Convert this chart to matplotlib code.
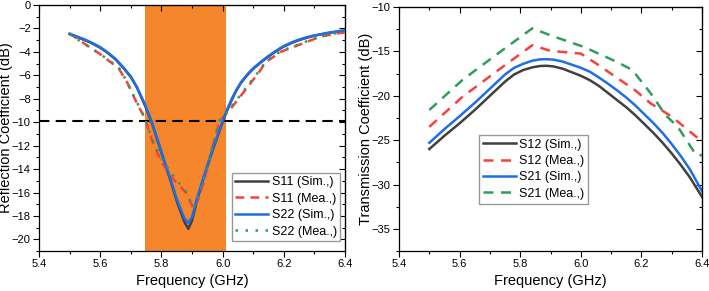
import numpy as np
import matplotlib.pyplot as plt
from matplotlib.ticker import MultipleLocator

plt.rcParams['font.family'] = ['Liberation Sans', 'DejaVu Sans']

# ---- reflection data (GHz, dB) ----
f_s22_sim = [5.50, 5.525, 5.55, 5.575, 5.60, 5.625, 5.65, 5.675, 5.70, 5.72, 5.745, 5.768,
             5.80, 5.83, 5.851, 5.875, 5.888, 5.90, 5.915, 5.94, 5.97, 6.00, 6.015, 6.03,
             6.045, 6.06, 6.08, 6.10, 6.125, 6.15, 6.175, 6.20, 6.225, 6.25, 6.275, 6.30,
             6.35, 6.40]
s22_sim = [-2.45, -2.7, -2.95, -3.25, -3.6, -4.05, -4.6, -5.3, -6.1, -7.0, -8.4, -9.9,
           -12.5, -14.9, -16.6, -18.2, -18.6, -18.1, -16.6, -14.5, -12.1, -9.9, -8.9, -8.0,
           -7.25, -6.6, -5.95, -5.4, -4.85, -4.35, -3.9, -3.5, -3.2, -2.95, -2.75, -2.6,
           -2.35, -2.15]
s11_sim = [-2.5, -2.75, -3.0, -3.3, -3.65, -4.1, -4.65, -5.35, -6.15, -7.05, -8.5, -10.0,
           -12.6, -15.0, -16.8, -18.5, -19.1, -18.4, -16.8, -14.6, -12.2, -10.0, -9.0, -8.1,
           -7.3, -6.65, -6.0, -5.45, -4.9, -4.4, -3.95, -3.55, -3.25, -3.0, -2.8, -2.62,
           -2.37, -2.2]

f_s11_mea = [5.50, 5.56, 5.60, 5.66, 5.69, 5.72, 5.745, 5.77, 5.80, 5.84, 5.88, 5.905,
             5.92, 5.94, 5.965, 5.99, 6.025, 6.07, 6.12, 6.14, 6.19, 6.23, 6.28, 6.32, 6.38, 6.40]
s11_mea = [-2.44, -3.5, -4.2, -5.4, -6.7, -8.4, -9.6, -11.6, -13.4, -14.9, -16.0, -17.4,
           -16.6, -15.0, -12.3, -9.9, -8.9, -7.4, -5.7, -4.9, -4.0, -3.6, -3.1, -2.7, -2.4, -2.35]

f_s22_mea = [5.50, 5.54, 5.58, 5.62, 5.66, 5.68, 5.72, 5.745, 5.765, 5.795, 5.845, 5.88, 5.905,
             5.92, 5.94, 5.965, 5.99, 6.025, 6.07, 6.12, 6.14, 6.19, 6.23, 6.28, 6.32, 6.38, 6.40]
s22_mea = [-2.44, -3.2, -3.85, -4.55, -5.3, -6.2, -8.3, -9.6, -11.2, -12.9, -14.8, -15.9, -17.3,
           -16.4, -14.8, -12.2, -9.8, -8.8, -7.3, -5.6, -4.85, -3.95, -3.55, -3.05, -2.7, -2.35, -2.3]

band = (5.745, 6.012)
ref_level = -9.9

# ---- transmission data ----
f_sim = [5.50, 5.55, 5.60, 5.65, 5.70, 5.75, 5.78, 5.81, 5.84, 5.865, 5.887, 5.91, 5.94,
         5.97, 6.00, 6.03, 6.06, 6.09, 6.12, 6.15, 6.18, 6.21, 6.24, 6.27, 6.30, 6.33,
         6.36, 6.40]
s12_sim = [-26.0, -24.5, -23.1, -21.6, -20.0, -18.4, -17.6, -17.1, -16.8, -16.65, -16.62,
           -16.7, -16.95, -17.35, -17.75, -18.25, -18.9, -19.7, -20.5, -21.3, -22.2, -23.2,
           -24.2, -25.3, -26.5, -27.8, -29.2, -31.4]
s21_sim = [-25.3, -23.75, -22.3, -20.8, -19.2, -17.6, -16.85, -16.4, -16.05, -15.9, -15.88,
           -15.93, -16.15, -16.5, -16.85, -17.3, -17.95, -18.65, -19.4, -20.2, -21.1, -22.1,
           -23.1, -24.2, -25.45, -26.8, -28.3, -30.75]

f_s12_mea = [5.50, 5.61, 5.72, 5.84, 5.90, 6.00, 6.05, 6.18, 6.23, 6.30, 6.38, 6.40]
s12_mea = [-23.5, -20.1, -17.3, -14.3, -14.95, -15.25, -16.35, -19.4, -20.85, -22.35, -24.6, -25.2]

f_s21_mea = [5.50, 5.61, 5.72, 5.84, 5.90, 6.01, 6.12, 6.17, 6.23, 6.28, 6.32, 6.38, 6.40]
s21_mea = [-21.6, -18.2, -15.4, -12.4, -13.2, -14.5, -16.2, -17.1, -19.7, -22.2, -23.5, -26.65, -26.7]

c_gray = '#404040'
c_red = '#f5423f'
c_blue = '#1f6ee6'
c_green = '#2e9e5b'

fig = plt.figure(figsize=(7.09, 2.91), dpi=100)
ax1 = fig.add_axes([0.055, 0.137, 0.4316, 0.846])
ax2 = fig.add_axes([0.5628, 0.137, 0.4274, 0.839])

leg_kw = dict(fontsize=9, handlelength=2.6, frameon=True, fancybox=False,
              edgecolor='#999999', framealpha=1, borderpad=0.3, labelspacing=0.35,
              handletextpad=0.3, borderaxespad=0)

# left panel
ax1.axvspan(band[0], band[1], color='#f5862b', lw=0, zorder=0)
ax1.axhline(ref_level, color='black', lw=1.5, dashes=(5, 3), zorder=1)
ax1.plot(f_s22_sim, s11_sim, color=c_gray, lw=1.8, label='S11 (Sim.,)', zorder=3)
ax1.plot(f_s11_mea, s11_mea, color=c_red, lw=1.8, dashes=(3.5, 2.5), label='S11 (Mea.,)', zorder=3)
ax1.plot(f_s22_sim, s22_sim, color=c_blue, lw=1.8, label='S22 (Sim.,)', zorder=4)
ax1.plot(f_s22_mea, s22_mea, color=c_green, lw=1.8, dashes=(1, 3), label='S22 (Mea.,)', zorder=4)
ax1.set_xlim(5.4, 6.4)
ax1.set_ylim(-21, 0)
ax1.yaxis.set_major_locator(MultipleLocator(2))
ax1.yaxis.set_minor_locator(MultipleLocator(1))
ax1.set_ylabel('Reflection Coefficient (dB)', fontsize=10.5)
ax1.yaxis.set_label_coords(-0.085, 0.5)
ax1.legend(loc='lower right', bbox_to_anchor=(0.985, 0.04), **leg_kw)

# right panel
ax2.plot(f_sim, s12_sim, color=c_gray, lw=1.8, label='S12 (Sim.,)')
ax2.plot(f_s12_mea, s12_mea, color=c_red, lw=1.8, dashes=(4, 3), label='S12 (Mea.,)')
ax2.plot(f_sim, s21_sim, color=c_blue, lw=1.8, label='S21 (Sim.,)')
ax2.plot(f_s21_mea, s21_mea, color=c_green, lw=1.8, dashes=(4, 3), label='S21 (Mea.,)')
ax2.set_xlim(5.4, 6.4)
ax2.set_ylim(-37.5, -10)
ax2.yaxis.set_major_locator(MultipleLocator(5))
ax2.yaxis.set_minor_locator(MultipleLocator(2.5))
ax2.set_ylabel('Transmission Coefficient (dB)', fontsize=10.5)
ax2.yaxis.set_label_coords(-0.086, 0.5)
ax2.legend(loc='lower left', bbox_to_anchor=(0.265, 0.195), **leg_kw)

for ax in (ax1, ax2):
    ax.xaxis.set_major_locator(MultipleLocator(0.2))
    ax.xaxis.set_minor_locator(MultipleLocator(0.1))
    ax.xaxis.set_major_formatter(plt.FormatStrFormatter('%.1f'))
    ax.set_xlabel('Frequency (GHz)', fontsize=10.5, labelpad=3)
    ax.tick_params(which='major', direction='out', length=4, width=0.8, labelsize=8, pad=2)
    ax.tick_params(which='minor', direction='out', length=2.5, width=0.8)
    for s in ax.spines.values():
        s.set_linewidth(0.9)
    top = ax.secondary_xaxis('top')
    top.xaxis.set_major_locator(MultipleLocator(0.2))
    top.xaxis.set_minor_locator(MultipleLocator(0.1))
    top.tick_params(which='major', direction='in', length=4, width=0.8, labeltop=False)
    top.tick_params(which='minor', direction='in', length=2.5, width=0.8)
    right = ax.secondary_yaxis('right')
    right.yaxis.set_major_locator(ax.yaxis.get_major_locator())
    right.yaxis.set_minor_locator(ax.yaxis.get_minor_locator())
    right.tick_params(which='major', direction='in', length=4, width=0.8, labelright=False)
    right.tick_params(which='minor', direction='in', length=2.5, width=0.8)

fig.savefig('out.png', dpi=100)
